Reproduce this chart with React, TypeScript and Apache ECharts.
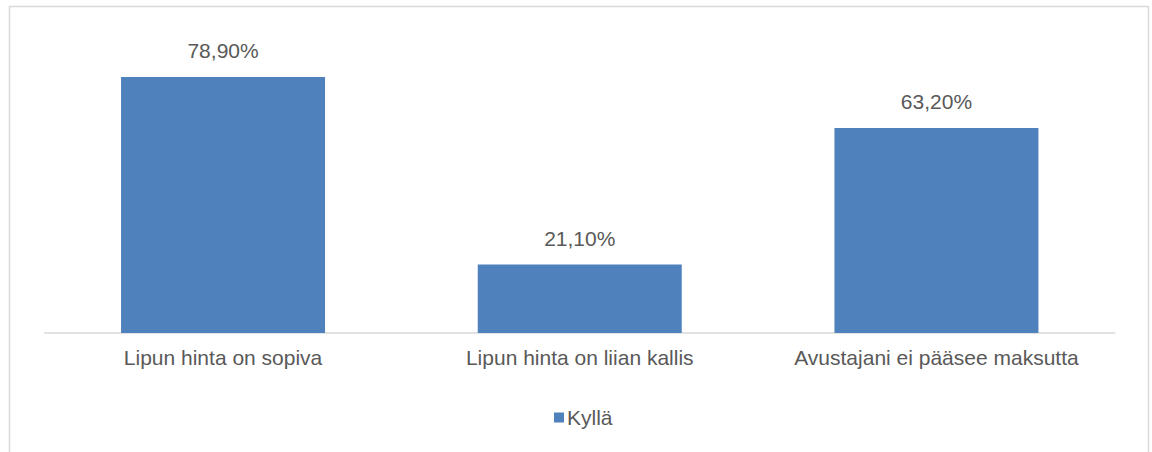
import React, { useEffect, useRef } from "react";
import * as echarts from "echarts";

const categories = [
  "Lipun hinta on sopiva",
  "Lipun hinta on liian kallis",
  "Avustajani ei pääsee maksutta",
];
const seriesName = "Kyllä";
const values = [78.9, 21.1, 63.2];

const FONT = "Liberation Sans, Arial, sans-serif";
const TEXT = "#595959";

export default function App() {
  const ref = useRef<HTMLDivElement>(null);
  useEffect(() => {
    if (!ref.current) return;
    const chart = echarts.init(ref.current, undefined, { renderer: "svg" });
    chart.setOption({
      animation: false,
      backgroundColor: "#ffffff",
      textStyle: { fontFamily: FONT },
      graphic: [
        {
          type: "rect",
          shape: { x: 9.5, y: 6.5, width: 1139, height: 470 },
          style: { fill: "none", stroke: "#d9d9d9", lineWidth: 1.5 },
          silent: true,
        },
      ],
      legend: {
        data: [seriesName],
        left: 549,
        top: 402,
        icon: "rect",
        itemWidth: 10,
        itemHeight: 10,
        itemGap: 4,
        textStyle: { color: TEXT, fontSize: 21, fontFamily: FONT, padding: [0, 0, 0, -2] },
      },
      grid: { left: 44.7, right: 37.2, top: 8.5, bottom: 119 },
      xAxis: {
        type: "category",
        data: categories,
        axisLine: { lineStyle: { color: "#d9d9d9", width: 1.5 } },
        axisTick: { show: false },
        axisLabel: { color: TEXT, fontSize: 21, fontFamily: FONT, margin: 14, interval: 0 },
      },
      yAxis: {
        type: "value",
        min: 0,
        max: 100,
        show: false,
        splitLine: { show: false },
      },
      series: [
        {
          name: seriesName,
          type: "bar",
          data: values,
          barWidth: 204,
          itemStyle: { color: "#4f81bd" },
          label: {
            show: true,
            position: "top",
            distance: 16,
            color: TEXT,
            fontSize: 21,
            fontFamily: FONT,
            formatter: (p: any) => p.value.toFixed(2).replace(".", ",") + "%",
          },
        },
      ],
    });
    return () => chart.dispose();
  }, []);
  return (
    <div
      ref={ref}
      style={{ position: "fixed", left: 0, top: 0, width: 1152, height: 452 }}
    />
  );
}
